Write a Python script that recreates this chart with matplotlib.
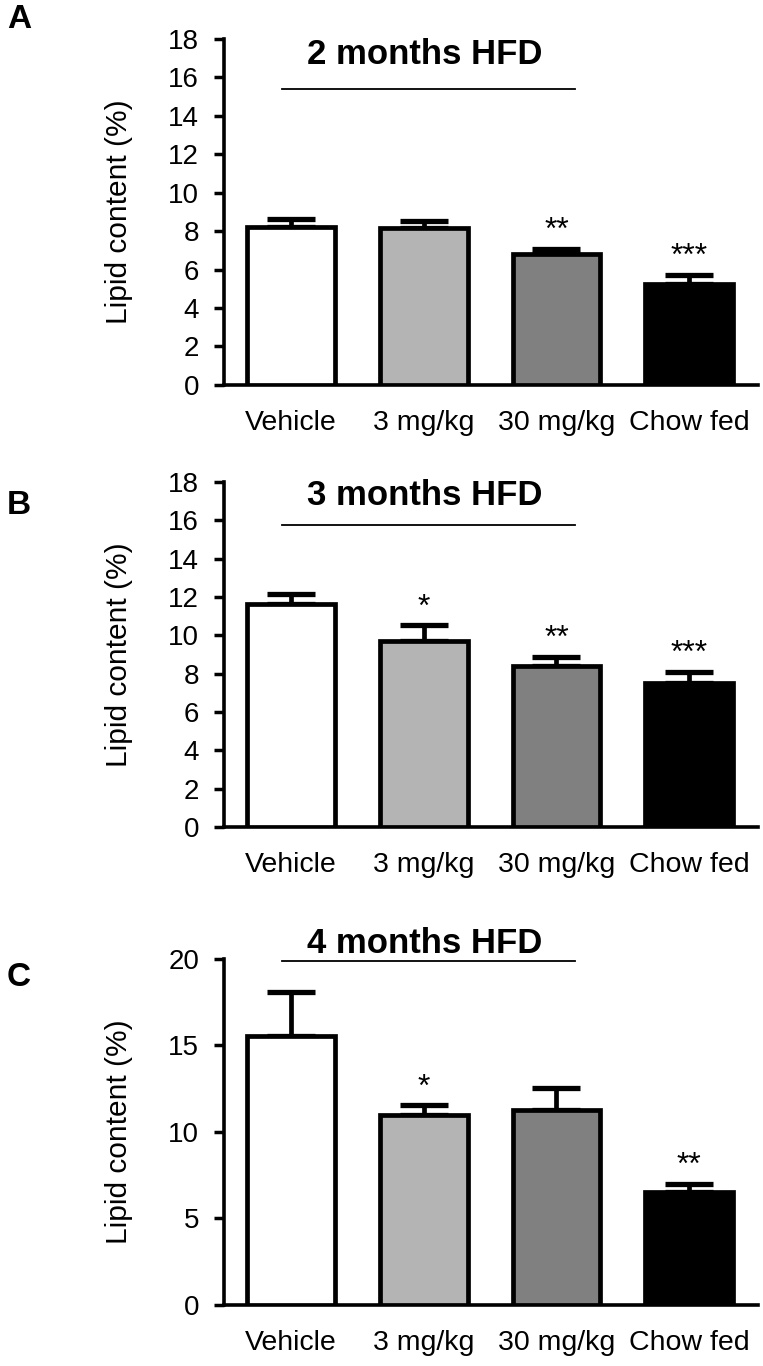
import matplotlib
matplotlib.use("Agg")
import matplotlib.pyplot as plt
import numpy as np

plt.rcParams['font.family'] = ['Liberation Sans', 'DejaVu Sans']

groups = ["Vehicle", "3 mg/kg", "30 mg/kg", "Chow fed"]
bar_colors = ["#ffffff", "#b4b4b4", "#808080", "#000000"]

# panel A: 2 months HFD
means_a = [8.2, 8.17, 6.8, 5.27]
sems_a = [0.45, 0.37, 0.28, 0.44]
stars_a = ["", "", "**", "***"]

# panel B: 3 months HFD
means_b = [11.65, 9.72, 8.4, 7.5]
sems_b = [0.49, 0.81, 0.48, 0.6]
stars_b = ["", "*", "**", "***"]

# panel C: 4 months HFD
means_c = [15.56, 10.99, 11.28, 6.52]
sems_c = [2.53, 0.54, 1.26, 0.48]
stars_c = ["", "*", "", "**"]

panels = [
    ("A", "2 months HFD", means_a, sems_a, stars_a, 18, np.arange(0, 19, 2)),
    ("B", "3 months HFD", means_b, sems_b, stars_b, 18, np.arange(0, 19, 2)),
    ("C", "4 months HFD", means_c, sems_c, stars_c, 20, np.arange(0, 21, 5)),
]

# axes rectangles in figure fraction (left, bottom, width, height)
rects = [
    (0.2936, 0.7182, 0.70, 0.2533),
    (0.2936, 0.3946, 0.70, 0.2525),
    (0.2936, 0.0447, 0.70, 0.2533),
]
# title (y in axes fraction) and line y, panel letter position in figure px
title_y = [0.955, 0.962, 1.045]
line_y = [0.855, 0.875, 0.995]
letter_y = [20, 505, 978]

fig = plt.figure(figsize=(7.63, 13.66), dpi=100)

for (letter, title, means, sems, stars, ymax, yticks), rect, ty, ly, lpy in zip(
        panels, rects, title_y, line_y, letter_y):
    ax = fig.add_axes(rect)
    x = np.arange(len(groups))
    ax.bar(x, means, width=0.66, color=bar_colors, edgecolor="black",
           linewidth=3.4, zorder=3)
    ax.errorbar(x, means, yerr=[np.zeros(len(means)), sems], fmt="none",
                ecolor="black", elinewidth=3.4, capsize=17, capthick=3.8,
                zorder=2)
    for xi, m, s, st in zip(x, means, sems, stars):
        if st:
            ax.annotate(st, xy=(xi, m + s), xytext=(0, 2),
                        textcoords="offset points", ha="center", va="bottom",
                        fontsize=23)

    ax.set_xlim(-0.505, 3.52)
    ax.set_ylim(0, ymax)
    ax.set_yticks(yticks)
    ax.set_xticks(x)
    ax.set_xticklabels(groups, fontsize=20.5)
    ax.tick_params(axis="x", length=0, pad=18)
    ax.tick_params(axis="y", length=7, width=2.5, pad=11, labelsize=20,
                   direction="out")
    for side in ["top", "right"]:
        ax.spines[side].set_visible(False)
    for side in ["left", "bottom"]:
        ax.spines[side].set_linewidth(2.6)
    ax.set_ylabel("Lipid content (%)", fontsize=21.5, labelpad=25)

    ax.text(1.01, ty, title, transform=ax.get_xaxis_transform(), ha="center",
            va="center", fontsize=25, fontweight="bold", clip_on=False)
    ax.plot([-0.07, 2.14], [ly, ly], transform=ax.get_xaxis_transform(),
            color="black", linewidth=1.3, clip_on=False)

    fig.text(19 / 763, 1 - lpy / 1366, letter, ha="center", va="center",
             fontsize=24, fontweight="bold")

fig.savefig("out.png", dpi=100)
